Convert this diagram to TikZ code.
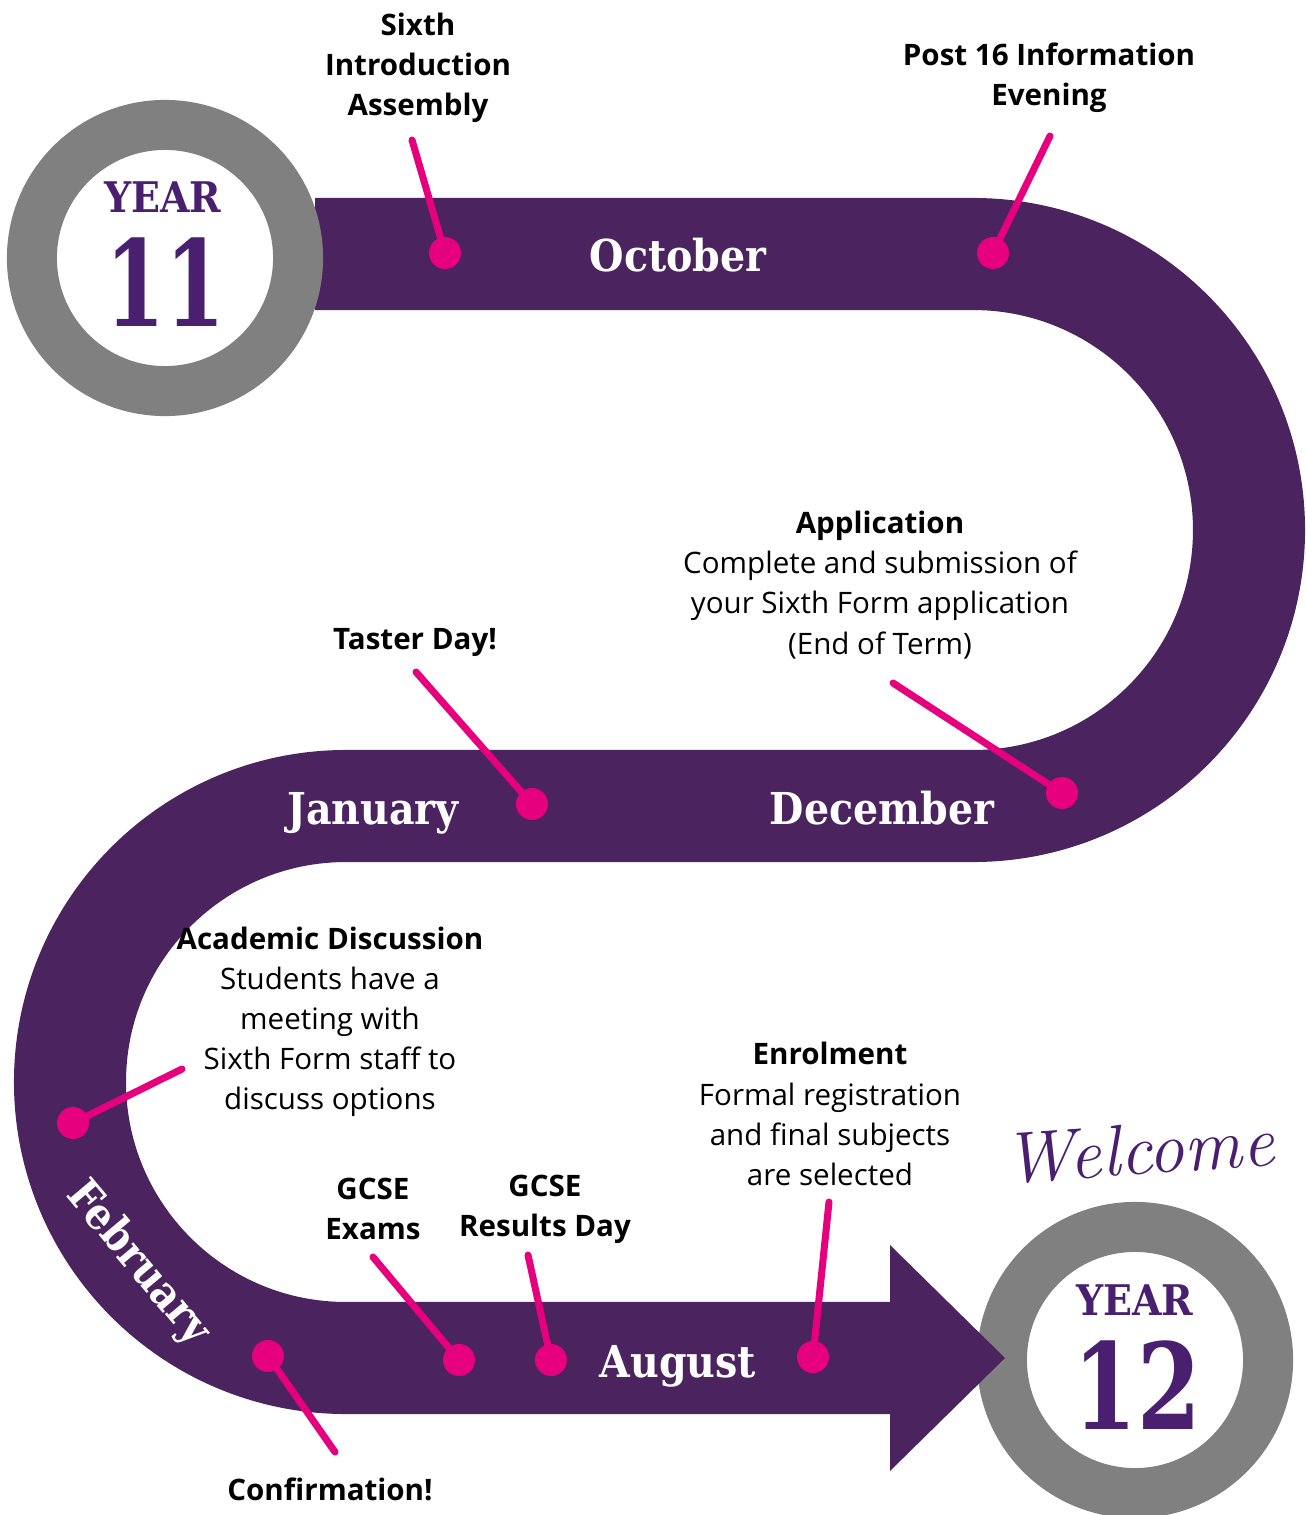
\documentclass[tikz,border=0pt]{standalone}
\usepackage{fontspec}
\setsansfont{Open Sans}
\newfontfamily\slabfont{DejaVu Serif Condensed}
\usetikzlibrary{positioning}
\definecolor{roadpurple}{RGB}{74,35,95}
\definecolor{yearpurple}{RGB}{75,31,111}
\definecolor{pinkdot}{RGB}{230,0,126}
\definecolor{ringgrey}{RGB}{128,128,128}
\tikzset{
  road/.style={draw=roadpurple,line width=1.12cm,line cap=butt},
  ring/.style={circle,draw=ringgrey,fill=white,line width=0.5cm,minimum size=2.66cm,inner sep=0pt},
  yearword/.style={text=yearpurple,font=\slabfont\bfseries\fontsize{12}{14}\selectfont},
  yearnum/.style={text=yearpurple,font=\slabfont\bfseries\fontsize{34}{36}\selectfont},
  month/.style={anchor=base,text=white,font=\slabfont\bfseries\fontsize{12.5}{15}\selectfont},
  note/.style={align=center,inner sep=0pt,font=\sffamily\fontsize{8.4}{11.4}\selectfont},
  boldnote/.style={note,font=\sffamily\bfseries\fontsize{8.4}{11.4}\selectfont},
  dot/.style={circle,fill=pinkdot,inner sep=0pt,minimum size=0.32cm},
  pinline/.style={draw=pinkdot,line width=2pt,line cap=round},
}
\begin{document}
\begin{tikzpicture}[x=0.01cm,y=0.01cm]
\useasboundingbox (0,0) rectangle (1306,-1515);
% year 12 ring sits under the arrow tip
\node[ring] (y12) at (1135,-1360) {};
% the road
\draw[road] (315,-254) -- (973,-254) arc (90:-90:276) -- (346,-806) arc (90:270:276) -- (891,-1358);
\fill[roadpurple] (890,-1245) -- (1005,-1358) -- (890,-1471) -- cycle;
\node[ring] (y11) at (165,-258) {};
% year labels
\node[yearword] (y11a) at (163,-197) {YEAR};\node[yearnum] (y11b) at (165,-282) {\scalebox{0.8}[1]{11}};
\node[yearword] (y12a) at (1135,-1300) {YEAR};\node[yearnum] (y12b) at (1137,-1385) {\scalebox{0.85}[1]{12}};
\node[text=yearpurple,font=\rmfamily\itshape\fontsize{20.5}{22}\selectfont,rotate=4] (welcome) at (1139,-1150) {Welcome};
% months
\node[month] (oct) at (678,-271) {October};
\node[month] (jan) at (373,-824) {January};\node[month] (dec) at (882,-824) {December};
\node[month] (aug) at (678,-1377) {August};
\node[month,anchor=center,rotate=-50] (feb) at (138,-1264) {February};
% notes
\node[boldnote] (intro) at (418,-68) {Sixth\\Introduction\\Assembly};
\node[boldnote] (post16) at (1049,-78) {Post 16 Information\\Evening};
\node[note] (appl) at (880,-585) {\textbf{Application}\\Complete and submission of\\your Sixth Form application\\(End of Term)};
\node[boldnote] (taster) at (415,-642) {Taster Day!};
\node[note] (acad) at (330,-1022) {\textbf{Academic Discussion}\\Students have a\\meeting with\\Sixth Form staff to\\discuss options};
\node[note] (enrol) at (830,-1114) {\textbf{Enrolment}\\Formal registration\\and final subjects\\are selected};
\node[boldnote] (exams) at (373,-1209) {GCSE\\Exams};
\node[boldnote] (results) at (545,-1209) {GCSE\\Results Day};
\node[boldnote] (confirm) at (330,-1489) {Confirmation!};
% pins
\coordinate (intro-end) at (412,-140);\coordinate (post16-end) at (1050,-136);\coordinate (appl-end) at (893,-683);
\coordinate (taster-end) at (416,-672);\coordinate (acad-end) at (182,-1069);\coordinate (confirm-end) at (335,-1452);
\coordinate (exams-end) at (373,-1257);\coordinate (results-end) at (528,-1255);\coordinate (enrol-end) at (829,-1202);
\node[dot] (intro-dot) at (445,-253) {};\node[dot] (post16-dot) at (993,-253) {};\node[dot] (appl-dot) at (1062,-793) {};
\node[dot] (taster-dot) at (532,-804) {};\node[dot] (acad-dot) at (73,-1123) {};\node[dot] (confirm-dot) at (268,-1356) {};
\node[dot] (exams-dot) at (459,-1360) {};\node[dot] (results-dot) at (551,-1360) {};\node[dot] (enrol-dot) at (813,-1357) {};
\draw[pinline] (intro-dot.center) -- (intro-end);\draw[pinline] (post16-dot.center) -- (post16-end);\draw[pinline] (appl-dot.center) -- (appl-end);
\draw[pinline] (taster-dot.center) -- (taster-end);\draw[pinline] (acad-dot.center) -- (acad-end);\draw[pinline] (confirm-dot.center) -- (confirm-end);
\draw[pinline] (exams-dot.center) -- (exams-end);\draw[pinline] (results-dot.center) -- (results-end);\draw[pinline] (enrol-dot.center) -- (enrol-end);
\end{tikzpicture}
\end{document}
